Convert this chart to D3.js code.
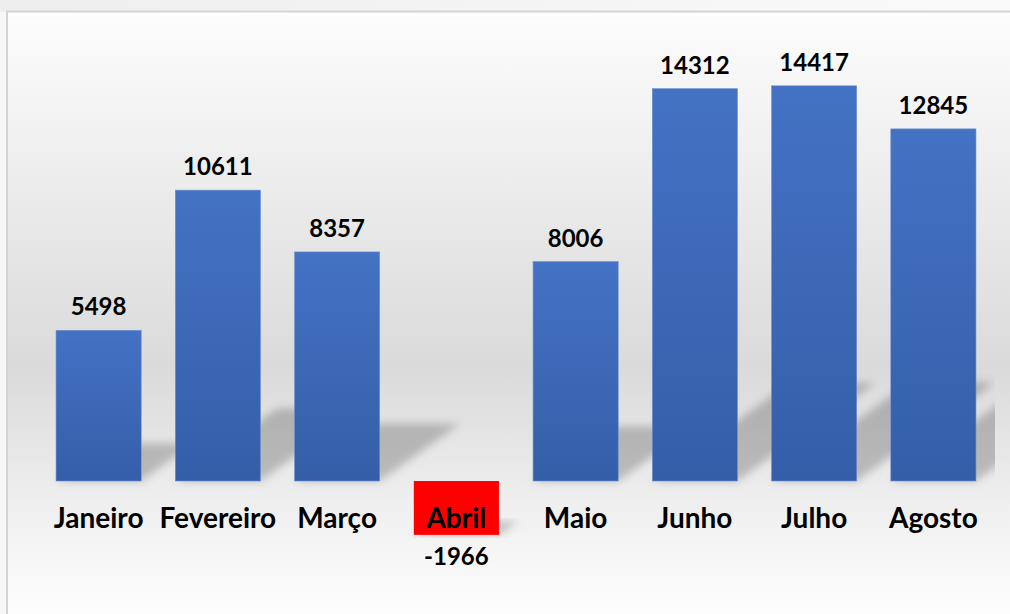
<!DOCTYPE html>
<html>
<head>
<meta charset="utf-8">
<script src="https://cdn.jsdelivr.net/npm/d3@7"></script>
<style>
  html, body { margin: 0; padding: 0; background: #f7f7f7; }
  #chart svg { display: block; }
</style>
</head>
<body>
<div id="chart"></div>
<script>
// data
var months = ["Janeiro", "Fevereiro", "Março", "Abril", "Maio", "Junho", "Julho", "Agosto"];
var values = [5498, 10611, 8357, -1966, 8006, 14312, 14417, 12845];

var width = 1010, height = 614;
var baseY = 481;

var svg = d3.select("#chart").append("svg")
    .attr("width", width)
    .attr("height", height);

var defs = svg.append("defs");

// page strip gradient (top band)
var topGrad = defs.append("linearGradient").attr("id", "topGrad")
    .attr("x1", 0).attr("x2", 1).attr("y1", 0).attr("y2", 0);
topGrad.append("stop").attr("offset", 0).attr("stop-color", "#eeeeee");
topGrad.append("stop").attr("offset", 1).attr("stop-color", "#fafafa");

// plot background gradient
var bgGrad = defs.append("linearGradient").attr("id", "bgGrad")
    .attr("x1", 0).attr("x2", 0).attr("y1", 0).attr("y2", 1);
[[0, "#fdfdfd"], [0.2, "#f1f1f1"], [0.58, "#dadada"], [0.78, "#ededed"], [1, "#ffffff"]]
  .forEach(function(s) { bgGrad.append("stop").attr("offset", s[0]).attr("stop-color", s[1]); });

// bar gradient
var barGrad = defs.append("linearGradient").attr("id", "barGrad")
    .attr("x1", 0).attr("x2", 0).attr("y1", 0).attr("y2", 1);
barGrad.append("stop").attr("offset", 0).attr("stop-color", "#4472c4");
barGrad.append("stop").attr("offset", 1).attr("stop-color", "#345ea8");

var blur = defs.append("filter").attr("id", "blur")
    .attr("x", "-20%").attr("y", "-20%").attr("width", "140%").attr("height", "140%");
blur.append("feGaussianBlur").attr("stdDeviation", 4);

defs.append("clipPath").attr("id", "plotClip")
  .append("rect").attr("x", 8).attr("y", 12).attr("width", 987).attr("height", 602);

// outer background
svg.append("rect").attr("width", width).attr("height", 12).attr("fill", "url(#topGrad)");

// frame
svg.append("rect")
    .attr("x", 7).attr("y", 11.5)
    .attr("width", width + 10).attr("height", height)
    .attr("fill", "url(#bgGrad)")
    .attr("stroke", "#d4d4d4")
    .attr("stroke-width", 2);

// scales
var x = d3.scaleBand()
    .domain(months)
    .range([39, 993])
    .paddingInner(0.286)
    .paddingOuter(0.143);

var y = d3.scaleLinear()
    .domain([0, 14417])
    .range([baseY, 85.8]);

var plot = svg.append("g").attr("clip-path", "url(#plotClip)");

// perspective shadows
plot.append("g").selectAll("path")
  .data(values)
  .enter().append("path")
    .attr("d", function(d, i) {
      var x0 = x(months[i]), x1 = x0 + x.bandwidth();
      var h = Math.abs(y(d) - y(0));
      var bottom = Math.max(y(d), y(0));
      var dx = h * 0.35, dy = h * 0.25;
      return "M" + x0 + "," + bottom + "L" + x1 + "," + bottom +
             "L" + (x1 + dx) + "," + (bottom - dy) + "L" + (x0 + dx) + "," + (bottom - dy) + "Z";
    })
    .attr("fill", "#000")
    .attr("fill-opacity", 0.21)
    .attr("filter", "url(#blur)");

// bars
plot.append("g").selectAll("rect")
  .data(values)
  .enter().append("rect")
    .attr("x", function(d, i) { return x(months[i]); })
    .attr("y", function(d) { return Math.min(y(d), y(0)); })
    .attr("width", x.bandwidth())
    .attr("height", function(d) { return Math.abs(y(d) - y(0)); })
    .attr("fill", function(d) { return d < 0 ? "#ff0000" : "url(#barGrad)"; })
    .attr("stroke", function(d) { return d < 0 ? "none" : "#6f8fcf"; })
    .attr("stroke-width", 0.6);

var font = "Lato, 'Open Sans', sans-serif";

// category labels
svg.append("g").selectAll("text")
  .data(months)
  .enter().append("text")
    .attr("x", function(d) { return x(d) + x.bandwidth() / 2; })
    .attr("y", 528)
    .attr("text-anchor", "middle")
    .attr("font-family", font)
    .attr("font-weight", "bold")
    .attr("font-size", 28)
    .attr("fill", "#000")
    .text(function(d) { return d; });

// value labels
svg.append("g").selectAll("text")
  .data(values)
  .enter().append("text")
    .attr("x", function(d, i) { return x(months[i]) + x.bandwidth() / 2; })
    .attr("y", function(d) { return d < 0 ? y(d) + 30 : y(d) - 15; })
    .attr("text-anchor", "middle")
    .attr("font-family", font)
    .attr("font-weight", "bold")
    .attr("font-size", 24)
    .attr("fill", "#000")
    .text(function(d) { return d; });
</script>
</body>
</html>
